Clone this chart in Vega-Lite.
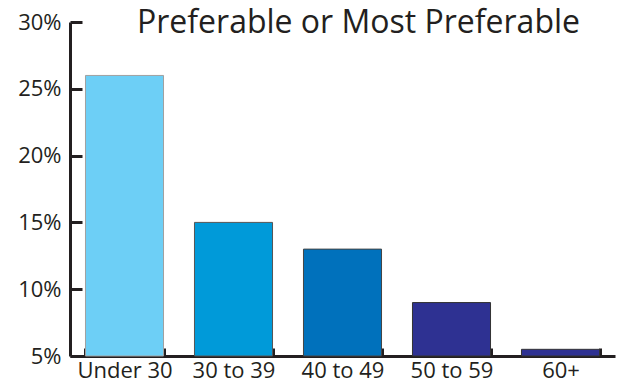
{
  "$schema": "https://vega.github.io/schema/vega-lite/v6.json",
  "width": 545,
  "height": 334,
  "autosize": {"type": "none"},
  "padding": {"left": 70, "top": 22, "right": 10, "bottom": 28},
  "background": "white",
  "config": {"font": "Open Sans", "view": {"stroke": null}},
  "title": {
    "text": "Preferable or Most Preferable",
    "fontSize": 32,
    "font": "Open Sans",
    "fontWeight": "normal",
    "color": "#231f20",
    "anchor": "middle",
    "dx": 16,
    "baseline": "alphabetic",
    "offset": -54
  },
  "data": {
    "values": [
      {"age": "Under 30", "pct": 26},
      {"age": "30 to 39", "pct": 15},
      {"age": "40 to 49", "pct": 13},
      {"age": "50 to 59", "pct": 9},
      {"age": "60+", "pct": 5.5}
    ]
  },
  "mark": {"type": "bar", "strokeWidth": 1},
  "encoding": {
    "x": {
      "field": "age",
      "type": "nominal",
      "sort": null,
      "scale": {"paddingInner": 0.284, "paddingOuter": 0.142},
      "axis": {
        "title": null,
        "labelAngle": 0,
        "tickBand": "extent",
        "tickSize": -8,
        "tickWidth": 3,
        "domainWidth": 3,
        "domainColor": "#231f20",
        "tickColor": "#231f20",
        "labelColor": "#231f20",
        "labelFontSize": 22,
        "labelPadding": 12
      }
    },
    "y": {
      "field": "pct",
      "type": "quantitative",
      "scale": {"domain": [5, 30], "zero": false, "nice": false},
      "axis": {
        "title": null,
        "values": [5, 10, 15, 20, 25, 30],
        "labelExpr": "datum.value + '%'",
        "grid": false,
        "tickSize": -12,
        "tickWidth": 3,
        "domainWidth": 3,
        "domainColor": "#231f20",
        "tickColor": "#231f20",
        "labelColor": "#231f20",
        "labelFontSize": 22,
        "labelPadding": 21
      }
    },
    "y2": {"datum": 5},
    "color": {
      "field": "age",
      "type": "nominal",
      "sort": null,
      "legend": null,
      "scale": {
        "domain": ["Under 30", "30 to 39", "40 to 49", "50 to 59", "60+"],
        "range": ["#6dcff6", "#009ad9", "#0071bc", "#2e3192", "#2e3192"]
      }
    },
    "stroke": {
      "field": "age",
      "type": "nominal",
      "legend": null,
      "scale": {
        "domain": ["Under 30", "30 to 39", "40 to 49", "50 to 59", "60+"],
        "range": ["#a0a0a0", "#555555", "#444444", "#333333", "#333333"]
      }
    }
  }
}
